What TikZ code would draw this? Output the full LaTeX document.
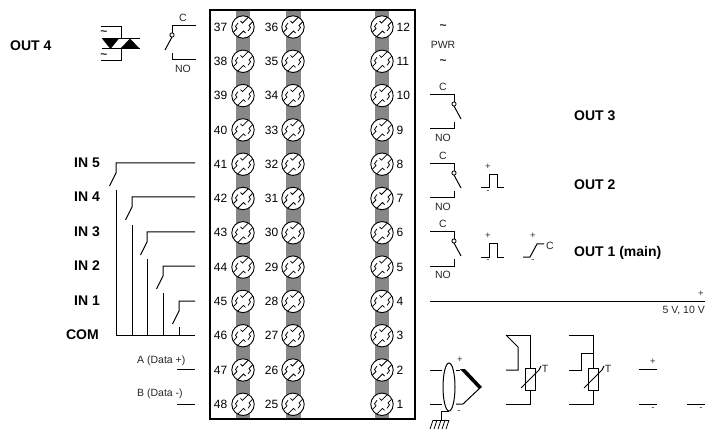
\documentclass[tikz,border=0pt]{standalone}
\usepackage{fontspec}
\setmainfont{Liberation Sans}
\usetikzlibrary{calc}
\definecolor{stripgray}{gray}{0.53}
\newcommand{\bigf}{\fontsize{14}{14}\selectfont\bfseries}
\newcommand{\numf}{\fontsize{12}{12}\selectfont}
\newcommand{\smf}{\fontsize{10.5}{11}\selectfont}
\newcommand{\tinyf}{\fontsize{9.5}{10}\selectfont}
\newcommand{\tld}{\fontsize{12}{12}\selectfont\bfseries\textasciitilde}
\tikzset{
  wire/.style={line width=1pt},
  lbl/.style={inner sep=0pt,font=\bigf},
  num/.style={inner sep=0pt,font=\numf},
  sm/.style={inner sep=0pt,font=\smf,text=black!85},
  pm/.style={inner sep=0pt,font=\tinyf,text=black!80},
  strip/.style={fill=stripgray,draw=none},
  screw/.style={circle,draw,line width=0.9pt,fill=white,minimum size=22.4pt,inner sep=0pt,
    path picture={
      \begin{scope}[shift={(path picture bounding box.center)},line width=0.75pt]
        \draw (-9.5,5)--(-6,1.5)--(-7.5,-0.5)--(-5,-4);
        \draw (6,-10.5)--(-0.5,-4)--(-2.5,-6);
        \draw (9.5,-5)--(6,-1.5)--(7.5,0.5)--(5,4);
        \draw (-6,10.5)--(0.5,4)--(2.5,6);
      \end{scope}}},
  relay/.pic={
    \draw [wire] (-24,0)--(0,0)--(0,7);
    \draw [wire] (-24,34)--(0,34)--(0,27);
    \draw [wire] (0,11)--(7,24);
    \draw [line width=0.8pt,fill=white] (0,9) circle (2.1);
    \node [sm] at (-11,-8) {C};
    \node [sm] at (-11,43) {NO};
  },
  pulse/.pic={
    \draw [wire] (-8,0)--(0,0)--(0,-13)--(8,-13)--(8,0)--(15,0);
    \node [pm] at (-1,-21) {+};
    \node [pm] at (-1,4) {-};
  }
}
\begin{document}
\begin{tikzpicture}[x=1pt,y=-1pt]
\useasboundingbox (0,0) rectangle (706,430);
% terminal block
\fill [strip] (236,10) rectangle (250,419);
\fill [strip] (286,10) rectangle (301,419);
\fill [strip] (375,10) rectangle (389,419);
\draw [line width=1.4pt] (210,10) rectangle (415,419);
\foreach \i in {0,...,11}{
  \pgfmathtruncatemacro{\na}{37+\i}
  \pgfmathtruncatemacro{\nb}{36-\i}
  \pgfmathtruncatemacro{\nc}{12-\i}
  \pgfmathsetmacro{\yy}{27+34.3*\i}
  \node [screw] (t\na) at (243,\yy) {};
  \node [screw] (t\nb) at (293,\yy) {};
  \node [screw] (t\nc) at (382,\yy) {};
  \node [num] (n\na) at (220.5,\yy) {\na};
  \node [num] (n\nb) at (271.5,\yy) {\nb};
  \node [num,anchor=west] (n\nc) at (396.5,\yy) {\nc};
}
% out 4
\node [lbl,anchor=west] (out4) at (10,46) {OUT 4};
\draw [wire] (101,27)--(121,27)--(121,38.5);
\draw [wire] (101,61)--(121,61)--(121,49);
\draw [wire] (102,38.5)--(140,38.5);
\draw [wire] (102,49)--(140,49);
\fill (102,38.5)--(119,38.5)--(110.5,49)--cycle;
\fill (120,49)--(140,49)--(130,38.5)--cycle;
\node [sm] (ta) at (104,33) {\tld};
\node [sm] (tb) at (104,56) {\tld};
\pic [xscale=-1] (rfour) at (172,26) {relay};
% inputs
\foreach \lab/\yy/\xx in {IN 5/163/116,IN 4/197/132,IN 3/232/147,IN 2/266/163,IN 1/301/179}{
  \node [lbl,anchor=east] at (100,\yy) {\lab};
  \draw [wire] (195,\yy)--(\xx,\yy)--(\xx,\yy+10)--(\xx-6.5,\yy+23);
}
\node [lbl,anchor=east] (com) at (99,335) {COM};
\coordinate (coml) at (116,335);
\coordinate (comr) at (195,335);
\draw [wire] (coml)--(comr);
\foreach \xx/\yy in {116/190,132/225,147/259,163/293,179/327}
  \draw [wire] (\xx,\yy)--(\xx,335);
% data lines
\node [sm,anchor=west] (dataa) at (137,361) {A (Data +)};
\node [sm,anchor=west] (datab) at (137,394) {B (Data -)};
\draw [wire] (177,369)--(195,369);
\draw [wire] (177,404)--(195,404);
% power
\node [sm] (pwra) at (443,27) {\tld};
\node [sm] (pwr) at (443,45) {PWR};
\node [sm] (pwrb) at (443,62) {\tld};
% outputs
\pic (rthree) at (454,95) {relay};
\pic (rtwo) at (454,164) {relay};
\pic (rone) at (454,232) {relay};
\pic (ptwo) at (489,188) {pulse};
\pic (pone) at (489,257) {pulse};
\draw [wire] (523,257)--(530,257)--(537,244)--(544,244);
\node [pm] (ap) at (533,236) {+};
\node [pm] (am) at (533,261) {-};
\node [sm] (ac) at (550,246) {C};
\node [lbl,anchor=west] (out3) at (574,116) {OUT 3};
\node [lbl,anchor=west] (out2) at (574,185) {OUT 2};
\node [lbl,anchor=west] (out1) at (574,253) {OUT 1 (main)};
% 5 V, 10 V
\draw [wire] (430,301)--(705,301);
\node [pm] (vp) at (701,294) {+};
\node [sm,anchor=east] (vv) at (705,311) {5 V, 10 V};
% thermocouple
\draw [wire] (430,370)--(442,370);
\draw [wire] (430,404)--(442,404);
\draw [wire] (449,387) ellipse (6 and 24);
\draw [wire] (456,370)--(460,370);
\fill (460,369)--(465,369)--(482,387)--(479,389)--cycle;
\draw [wire] (481,387)--(463,404)--(456,404);
\draw [wire] (449,411)--(441,411)--(441,420);
\draw [wire] (433,420)--(449,420);
\foreach \xx in {433,437,441,445,449}
  \draw [line width=0.8pt] (\xx,420)--(\xx-3,429);
\node [pm] (tcp) at (460,360) {+};
\node [pm] (tcm) at (459,412) {-};
% rtd 3 wire
\draw [wire] (506,335)--(530,335)--(530,368);
\draw [wire] (530,390)--(530,404)--(506,404);
\draw [wire] (506,335)--(518,347)--(518,370)--(506,370);
\draw [wire] (525,368) rectangle (535,390);
\draw [wire] (521,388)--(539,370)--(541,366);
\node [sm] (rta) at (545,369) {T};
% rtd 4 wire
\draw [wire] (569,335)--(593,335)--(593,368);
\draw [wire] (593,390)--(593,404)--(569,404);
\draw [wire] (569,370)--(581,370)--(581,353)--(593,353);
\draw [wire] (588,368) rectangle (598,390);
\draw [wire] (584,388)--(602,370)--(604,366);
\node [sm] (rtb) at (608,369) {T};
% voltage input
\draw [wire] (639,369)--(657,369);
\draw [wire] (639,404)--(657,404);
\draw [wire] (687,404)--(705,404);
\node [pm] (ip) at (653,362) {+};
\node [pm] (ima) at (653,409) {-};
\node [pm] (imb) at (701,409) {-};
\end{tikzpicture}
\end{document}
